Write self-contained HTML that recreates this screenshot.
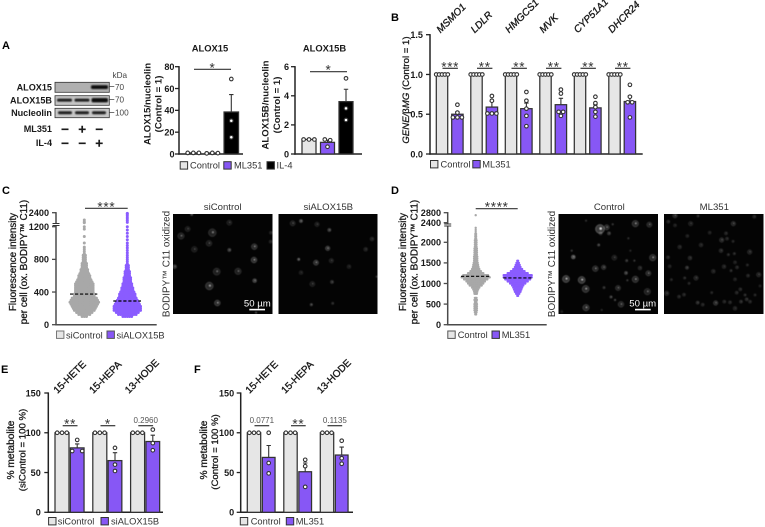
<!DOCTYPE html>
<html lang="en">
<head>
<meta charset="utf-8">
<title>ALOX15 figure</title>
<style>
html,body{margin:0;padding:0;background:#fff;width:765px;height:527px;overflow:hidden}
svg{display:block;font-family:"Liberation Sans",Arial,sans-serif}
text{fill:#1a1a1a}
.b{font-weight:bold}
.t{font-size:9.6px;stroke:#1a1a1a;stroke-width:.3px}
.tb{font-weight:bold;font-size:9.6px}
.leg{font-size:9.3px;fill:#333}
.tick{font-size:9.1px;font-weight:bold}
.rot{font-size:10px;stroke:#1a1a1a;stroke-width:.35px}
.star{font-size:13.5px;fill:#333;letter-spacing:.7px}
.p{font-size:8px;fill:#555}
.letter{font-size:11px;font-weight:bold;fill:#000}
</style>
</head>
<body>
<svg id="fig" xmlns="http://www.w3.org/2000/svg" width="765" height="527" viewBox="0 0 765 527">
<defs>
<filter id="soft" x="-60%" y="-60%" width="220%" height="220%"><feGaussianBlur stdDeviation="0.55"/></filter>
<filter id="band" x="-20%" y="-80%" width="140%" height="260%"><feGaussianBlur stdDeviation="0.9"/></filter>
<clipPath id="c1"><rect x="173" y="214" width="99.5" height="100"/></clipPath>
<clipPath id="c2"><rect x="278.5" y="214" width="99" height="100"/></clipPath>
<clipPath id="c3"><rect x="558.5" y="214" width="99.5" height="100"/></clipPath>
<clipPath id="c4"><rect x="664" y="214" width="99.5" height="100"/></clipPath>
</defs>

<text class="letter" x="2" y="49">A</text>
<text class="letter" x="391" y="21">B</text>
<text class="letter" x="2" y="194">C</text>
<text class="letter" x="391" y="194">D</text>
<text class="letter" x="1" y="373">E</text>
<text class="letter" x="194" y="373">F</text>

<!-- Western blot -->
<g>
<text x="112.5" y="78" font-size="8.2" style="fill:#444">kDa</text>
<text class="b" x="52" y="90.5" font-size="9.1" text-anchor="end">ALOX15</text>
<text class="b" x="52" y="103.5" font-size="9.1" text-anchor="end">ALOX15B</text>
<text class="b" x="52" y="116" font-size="9.1" text-anchor="end">Nucleolin</text>
<rect x="55" y="82.3" width="54.3" height="10" fill="#b0b0b0" stroke="#333" stroke-width=".8"/>
<rect x="55" y="95.7" width="54.3" height="9.6" fill="#c4c4c4" stroke="#333" stroke-width=".8"/>
<rect x="55" y="108.3" width="54.3" height="9.4" fill="#c8c8c8" stroke="#333" stroke-width=".8"/>
<rect x="91" y="85.2" width="17" height="3.8" rx="1.5" fill="#0c0c0c" filter="url(#band)"/>
<rect x="57" y="98.6" width="15" height="3" rx="1.4" fill="#1c1c1c" filter="url(#band)"/>
<rect x="74.5" y="98.6" width="15" height="3" rx="1.4" fill="#1c1c1c" filter="url(#band)"/>
<rect x="91.5" y="98" width="16.5" height="4.4" rx="1.8" fill="#0a0a0a" filter="url(#band)"/>
<rect x="58" y="111.2" width="14" height="3" rx="1.4" fill="#1e1e1e" filter="url(#band)"/>
<rect x="75" y="111.2" width="14" height="3" rx="1.4" fill="#1e1e1e" filter="url(#band)"/>
<rect x="92" y="111.2" width="14" height="3" rx="1.4" fill="#1e1e1e" filter="url(#band)"/>
<path d="M109.3 86.5h5M109.3 99.5h5M109.3 112.5h5" stroke="#444" stroke-width=".8"/>
<text x="115" y="90" font-size="8.2" style="fill:#444">70</text>
<text x="115" y="102.5" font-size="8.2" style="fill:#444">70</text>
<text x="115" y="115.5" font-size="8.2" style="fill:#444">100</text>
<text class="b" x="52" y="132" font-size="9.1" text-anchor="end">ML351</text>
<text class="b" x="52" y="146" font-size="9.1" text-anchor="end">IL-4</text>
<path stroke="#1a1a1a" stroke-width="1.7" fill="none" d="M61.5 129.3h7M95.7 129.3h7M78.7 129.3h7M82.2 125.8v7M61.5 143.3h7M78.7 143.3h7M95.7 143.3h7M99.2 139.8v7"/>
</g>

<!-- Panel A titles and axis text -->
<text class="b" x="210" y="51.5" font-size="9.4" text-anchor="middle">ALOX15</text>
<text class="b" x="324.5" y="51.5" font-size="9.4" text-anchor="middle">ALOX15B</text>
<text class="tb" transform="translate(150.5,104) rotate(-90)" text-anchor="middle">ALOX15/nucleolin</text>
<text class="tb" transform="translate(161.5,104) rotate(-90)" text-anchor="middle">(Control = 1)</text>
<text class="tb" transform="translate(268.5,105) rotate(-90)" text-anchor="middle">ALOX15B/nucleolin</text>
<text class="tb" transform="translate(280,105) rotate(-90)" text-anchor="middle">(Control = 1)</text>

<!-- Panel B text -->
<text class="t" transform="translate(409,90) rotate(-90)" text-anchor="middle"><tspan font-style="italic">GENE/</tspan>β<tspan font-style="italic">MG</tspan> (Control = 1)</text>

<!-- Panel C text -->
<text class="t" transform="translate(16,262) rotate(-90)" text-anchor="middle" style="font-size:9.9px">Fluorescence intensity</text>
<text class="t" transform="translate(27,262) rotate(-90)" text-anchor="middle" style="font-size:9.9px">per cell (ox. BODIPY™ C11)</text>
<text x="222.7" y="210" font-size="9.6" text-anchor="middle" style="fill:#333">siControl</text>
<text x="328.3" y="210" font-size="9.6" text-anchor="middle" style="fill:#333">siALOX15B</text>
<text transform="translate(169.5,264) rotate(-90)" text-anchor="middle" font-size="9.9" style="fill:#333">BODIPY™ C11 oxidized</text>

<!-- Panel D text -->
<text class="t" transform="translate(406,262) rotate(-90)" text-anchor="middle" style="font-size:9.9px">Fluorescence intensity</text>
<text class="t" transform="translate(417.5,262) rotate(-90)" text-anchor="middle" style="font-size:9.9px">per cell (ox. BODIPY™ C11)</text>
<text x="609.3" y="210" font-size="9.6" text-anchor="middle" style="fill:#333">Control</text>
<text x="714.3" y="210" font-size="9.6" text-anchor="middle" style="fill:#333">ML351</text>
<text transform="translate(555,264) rotate(-90)" text-anchor="middle" font-size="9.9" style="fill:#333">BODIPY™ C11 oxidized</text>

<!-- Panel E/F axis text -->
<text class="t" transform="translate(14,450) rotate(-90)" text-anchor="middle" style="font-size:10.2px">% metabolite</text>
<text class="t" transform="translate(25.5,450) rotate(-90)" text-anchor="middle">(siControl = 100 %)</text>
<text class="t" transform="translate(207,450) rotate(-90)" text-anchor="middle" style="font-size:10.2px">% metabolite</text>
<text class="t" transform="translate(218,452) rotate(-90)" text-anchor="middle">(Control = 100 %)</text>

<g id="micrographs"></g>
<g id="charts"></g>

<!-- Scale bars -->
<text x="257.3" y="306.5" font-size="9.6" text-anchor="middle" style="fill:#fff">50 µm</text>
<rect x="249.3" y="308.8" width="15.7" height="1.6" fill="#fff"/>
<text x="642.7" y="306.5" font-size="9.6" text-anchor="middle" style="fill:#fff">50 µm</text>
<rect x="635" y="308.8" width="15.7" height="1.6" fill="#fff"/>

<!-- Legends -->
<g>
<rect x="180.2" y="161.7" width="7.4" height="7.4" fill="#e6e6e6" stroke="#333"/>
<text class="leg" x="190" y="168.6">Control</text>
<rect x="223.8" y="161.7" width="7.4" height="7.4" fill="#8757f5" stroke="#333"/>
<text class="leg" x="234" y="168.6">ML351</text>
<rect x="267" y="161.7" width="7.4" height="7.4" fill="#000" stroke="#333"/>
<text class="leg" x="276.5" y="168.6">IL-4</text>
</g>
<g>
<rect x="430.5" y="160.5" width="7.4" height="7.4" fill="#e6e6e6" stroke="#333"/>
<text class="leg" x="440.5" y="167.3">Control</text>
<rect x="472.8" y="160.5" width="7.4" height="7.4" fill="#8757f5" stroke="#333"/>
<text class="leg" x="482.3" y="167.3">ML351</text>
</g>
<g>
<rect x="56.5" y="331" width="7.4" height="7.4" fill="#e6e6e6" stroke="#777"/>
<text class="leg" x="66" y="338.5">siControl</text>
<rect x="107" y="331" width="7.4" height="7.4" fill="#8757f5" stroke="#555"/>
<text class="leg" x="116.5" y="338.5">siALOX15B</text>
</g>
<g>
<rect x="447.8" y="331" width="7.4" height="7.4" fill="#e6e6e6" stroke="#555"/>
<text class="leg" x="457.7" y="338">Control</text>
<rect x="492" y="331" width="7.4" height="7.4" fill="#8757f5" stroke="#333"/>
<text class="leg" x="501.7" y="338">ML351</text>
</g>
<g>
<rect x="48.6" y="517.5" width="7.4" height="7.4" fill="#e6e6e6" stroke="#333"/>
<text class="leg" x="57.7" y="524.4">siControl</text>
<rect x="101" y="517.5" width="7.4" height="7.4" fill="#8757f5" stroke="#333"/>
<text class="leg" x="111" y="524.4">siALOX15B</text>
</g>
<g>
<rect x="240.3" y="517.5" width="7.4" height="7.4" fill="#e6e6e6" stroke="#333"/>
<text class="leg" x="250.7" y="524.4">Control</text>
<rect x="286.3" y="517.5" width="7.4" height="7.4" fill="#8757f5" stroke="#333"/>
<text class="leg" x="295.7" y="524.4">ML351</text>
</g>
</svg>

<script>
/* ---------- Chart data ---------- */
const CONTROL_FILL = '#e6e6e6', TREAT_FILL = '#8757f5', BLACK_FILL = '#000000';

// Panel A
const aGroups = ['Control', 'ML351', 'IL-4'];
const aTicksLeft = [0, 20, 40, 60, 80];
const aLeftMeans = [1, 0.9, 38.5];
const aLeftSems = [0, 0, 16];
const aLeftPoints = [[1, 1, 1], [0.6, 1, 0.8], [68.7, 30.5, 15.3]];
const aTicksRight = [0, 2, 4, 6];
const aRightMeans = [1, 0.8, 3.6];
const aRightSems = [0, 0.15, 0.85];
const aRightPoints = [[1, 1, 1], [1, 0.95, 0.5], [5.2, 3.14, 2.34]];

// Panel B
const bGenes = ['MSMO1', 'LDLR', 'HMGCS1', 'MVK', 'CYP51A1', 'DHCR24'];
const bTicks = ['0.0', '0.5', '1.0', '1.5'];
const bControlMeans = [1, 1, 1, 1, 1, 1];
const bControlPoints = [1, 1, 1, 1, 1];
const bTreatMeans = [0.5, 0.59, 0.57, 0.62, 0.58, 0.66];
const bTreatSems = [0.03, 0.07, 0.07, 0.08, 0.04, 0.07];
const bTreatPoints = [
  [0.62, 0.52, 0.46, 0.46, 0.46],
  [0.73, 0.67, 0.51, 0.51, 0.51],
  [0.78, 0.67, 0.57, 0.48, 0.35],
  [0.81, 0.76, 0.53, 0.53, 0.48],
  [0.72, 0.64, 0.59, 0.53, 0.47],
  [0.87, 0.72, 0.65, 0.65, 0.46]
];
const bStars = ['***', '**', '**', '**', '**', '**'];

// Panel C: swarm rows (fluorescence level and number of cells shown in that row)
const cTicks = [0, 400, 800, 1200, 2400];
const cControlLevels = [100,125,150,175,200,225,250,275,300,325,350,375,400,425,450,475,500,525,550,575,600,625,650,675,700,725,750,775,800,825,850,875,900,925,950,1000,1080,1170,1200,1250,1350,1570];
const cControlCounts = [3,6,8,10,11,12,13,14,13,12,10,10,9,9,9,9,9,8,7,6,6,5,4,4,3,3,3,2,2,2,2,1,1,1,1,1,1,1,1,1,1,1];
const cTreatLevels = [100,125,150,175,200,225,250,275,300,325,350,375,400,425,450,475,500,525,550,575,600,625,650,675,700,725,750,775,800,825,850,880,910,940,970,1000,1040,1080,1120,1160,1200,1300,1500,1700,1900,2100,2250,2330];
const cTreatCounts = [5,9,11,13,13,13,12,11,10,9,8,8,7,6,6,5,5,4,4,4,3,3,3,2,2,2,1,1,1,1,1,1,1,1,1,1,1,1,1,1,1,1,1,1,1,1,1,1];
const cMedians = [375, 290];

// Panel D: swarm rows
const dTicks = [0, 500, 1000, 1500, 2000, 2400, 2800];
const dControlLevels = [250,300,350,400,450,500,550,600,650,750,800,850,900,950,1000,1050,1100,1150,1200,1250,1300,1350,1400,1450,1500,1550,1600,1650,1700,1750,1800,1850,1900,1950,2000,2050,2100,2150,2200,2250,2300,2350,2700];
const dControlCounts = [2,3,4,4,4,4,3,4,3,4,5,7,10,16,20,24,30,36,32,20,14,10,8,7,6,5,5,5,4,4,4,4,3,3,3,3,2,2,2,1,1,1,1];
const dTreatLevels = [700,750,800,850,900,950,1000,1050,1100,1150,1200,1250,1300,1350,1400,1450,1500,1550];
const dTreatCounts = [2,5,8,10,12,15,20,26,32,36,36,26,18,12,8,6,4,2];
const dMedians = [1175, 1135];

// Panel E
const eAnalytes = ['15-HETE', '15-HEPA', '13-HODE'];
const metaboliteTicks = [0, 50, 100, 150];
const eControlMeans = [100, 100, 100];
const eControlPoints = [100, 100, 100];
const eTreatMeans = [81, 65, 89];
const eTreatSems = [5, 10, 8];
const eTreatPoints = [[91, 77, 77], [81, 60, 52], [104, 87, 78]];
const eLabels = ['**', '*', '0.2960'];

// Panel F
const fAnalytes = ['15-HETE', '15-HEPA', '13-HODE'];
const fControlMeans = [100, 100, 100];
const fControlPoints = [100, 100, 100];
const fTreatMeans = [69, 51, 72];
const fTreatSems = [15, 11, 10];
const fTreatPoints = [[100, 62, 49], [66, 58, 32], [90, 68, 61]];
const fLabels = ['0.0771', '**', '0.1135'];

/* ---------- Drawing helpers ---------- */
const NS = 'http://www.w3.org/2000/svg';
const root = document.getElementById('charts');
const imgRoot = document.getElementById('micrographs');

function make(parent, tag, props, txt) {
  const el = document.createElementNS(NS, tag);
  for (const k in props) el.setAttribute(k, props[k]);
  if (txt !== undefined) el.textContent = txt;
  parent.appendChild(el);
  return el;
}
function linear(d0, d1, r0, r1) {
  return v => r0 + (v - d0) * (r1 - r0) / (d1 - d0);
}
function brokenScale(lowFn, split, highFn) {
  return v => (v <= split ? lowFn(v) : highFn(v));
}
function group(name) {
  const g = make(root, 'g', {});
  
  
  return g;
}

function drawYAxis(g, x, yFn, ticks, x1, color, labelOffset, top) {
  const ax = make(g, 'line', {x1: x, x2: x, y1: top - 0.6, y2: yFn(0) + 0.7, stroke: color, 'stroke-width': 1.5});
  
  
  const bx = make(g, 'line', {x1: x - 0.7, x2: x1, y1: yFn(0), y2: yFn(0), stroke: color, 'stroke-width': 1.5});
  
  
  ticks.forEach(t => {
    const v = parseFloat(t);
    const tk = make(g, 'line', {x1: x - 4, x2: x, y1: yFn(v), y2: yFn(v), stroke: color, 'stroke-width': 1.3});
    
    
    const lb = make(g, 'text', {x: x - labelOffset, y: yFn(v) + 3.3, 'text-anchor': 'end', class: 'tick'}, String(t));
    
    
  });
}

function drawBar(g, cx, w, mean, sem, pts, yFn, fill, spread, minGap, name) {
  const y0 = yFn(0), ym = yFn(mean);
  const bar = make(g, 'rect', {x: cx - w / 2, y: ym, width: w, height: Math.max(0.5, y0 - ym), fill: fill, stroke: '#333', 'stroke-width': 1.25});
  
  
  if (sem > 0) {
    const err = make(g, 'path', {d: 'M' + cx + ' ' + ym + 'V' + yFn(mean + sem) + 'M' + (cx - 2.2) + ' ' + yFn(mean + sem) + 'H' + (cx + 2.2), stroke: '#333', 'stroke-width': 1.1, fill: 'none'});
    
    
  }
  const rows = [];
  pts.forEach(v => {
    let row = rows.find(r => Math.abs(yFn(r[0]) - yFn(v)) < minGap);
    if (!row) { row = []; rows.push(row); }
    row.push(v);
  });
  rows.forEach(row => {
    row.forEach((v, i) => {
      const off = (i - (row.length - 1) / 2) * spread;
      const c = make(g, 'circle', {cx: cx + off, cy: yFn(v), r: 1.8, fill: '#fff', stroke: '#333', 'stroke-width': 1.1});
      
      
    });
  });
}

function drawSig(g, x1, x2, y, label, isP) {
  const l = make(g, 'line', {x1: x1, x2: x2, y1: y, y2: y, stroke: '#333', 'stroke-width': 1.2});
  
  
  const t = make(g, 'text', {x: (x1 + x2) / 2, y: isP ? y - 2.5 : y + 3, 'text-anchor': 'middle', class: isP ? 'p' : 'star'}, label);
  
  
}

function drawRotLabel(g, x, y, label, italic) {
  const t = make(g, 'text', {transform: 'translate(' + x + ',' + y + ') rotate(-45)', class: 'rot'}, label);
  if (italic) t.setAttribute('font-style', 'italic');
  
  
}

function drawSwarm(g, levels, counts, cx, yFn, spacing, r, color, name) {
  levels.forEach((lv, i) => {
    const n = counts[i];
    for (let k = 0; k < n; k++) {
      const c = make(g, 'circle', {cx: cx + (k - (n - 1) / 2) * spacing, cy: yFn(lv), r: r, fill: color});
      
      
    }
  });
}

function drawMedian(g, x1, x2, y) {
  const m = make(g, 'line', {x1: x1, x2: x2, y1: y, y2: y, stroke: '#000', 'stroke-width': 1.2, 'stroke-dasharray': '3.2 1.8'});
  
  
}

function drawBreak(g, x, y1, y2) {
  const mask = make(g, 'rect', {x: x - 1.5, y: y1, width: 3, height: y2 - y1, fill: '#fff'});
  
  
  const mk = make(g, 'path', {d: 'M' + (x - 3.5) + ' ' + y1 + 'H' + (x + 3.5) + 'M' + (x - 3.5) + ' ' + y2 + 'H' + (x + 3.5), stroke: '#333', 'stroke-width': 1});
  
  
}

/* ---------- Panel A ---------- */
(function () {
  const g = group('alox15-bar-chart');
  const y = linear(0, 80, 154, 66.7);
  drawYAxis(g, 179, y, aTicksLeft, 243, '#222', 4.5, 66.7);
  const fills = [CONTROL_FILL, TREAT_FILL, BLACK_FILL];
  aGroups.forEach((name, i) => {
    const cx = 193.3 + i * 19;
    drawBar(g, cx, 14.5, aLeftMeans[i], aLeftSems[i], aLeftPoints[i], y, fills[i], 5.6, 3, 'bar-alox15-' + name.toLowerCase());
  });
  drawSig(g, 194, 231, 69.3, '*');

  const g2 = group('alox15b-bar-chart');
  const y2 = linear(0, 6, 154, 66.7);
  drawYAxis(g2, 295, y2, aTicksRight, 362, '#222', 6, 66.7);
  aGroups.forEach((name, i) => {
    const cx = 309 + i * 18.5;
    drawBar(g2, cx, 14, aRightMeans[i], aRightSems[i], aRightPoints[i], y2, fills[i], 5.4, 3, 'bar-alox15b-' + name.toLowerCase());
  });
  drawSig(g2, 310, 347, 71.7, '*');
})();

/* ---------- Panel B ---------- */
(function () {
  const g = group('gene-expression-bar-chart');
  const y = linear(0, 1.5, 154, 34.7);
  drawYAxis(g, 430, y, bTicks, 642.7, '#222', 7, 34.7);
  bGenes.forEach((gene, i) => {
    const c0 = 442 + i * 34.5, c1 = c0 + 15.4;
    drawBar(g, c0, 11.4, bControlMeans[i], 0, bControlPoints, y, CONTROL_FILL, 2.9, 3, 'bar-control-' + gene.toLowerCase());
    drawBar(g, c1, 11.4, bTreatMeans[i], bTreatSems[i], bTreatPoints[i], y, TREAT_FILL, 4.5, 2.5, 'bar-ml351-' + gene.toLowerCase());
    drawSig(g, c0 + 0.5, c1 + 0.5, 68.3, bStars[i]);
    drawRotLabel(g, 440.5 + i * 34.3, 33.5, gene, true);
  });
})();

/* ---------- Panel C ---------- */
(function () {
  const g = group('bodipy-swarm-chart-c');
  const y = brokenScale(linear(0, 1200, 324.7, 226.7), 1225, linear(1250, 2400, 222.8, 212.7));
  drawSwarm(g, cControlLevels, cControlCounts, 84.3, y, 2.2, 1.5, '#a8a8a8', 'swarm-sicontrol');
  drawSwarm(g, cTreatLevels, cTreatCounts, 127.3, y, 2.2, 1.5, '#8a5cff', 'swarm-sialox15b');
  drawYAxis(g, 56, y, cTicks, 156.7, '#4a4a4a', 7, 212.7);
  drawBreak(g, 56, 223.5, 225.5);
  drawMedian(g, 70, 97.3, y(cMedians[0]));
  drawMedian(g, 113.3, 141, y(cMedians[1]));
  drawSig(g, 85, 127.7, 208.3, '***');
})();

/* ---------- Panel D ---------- */
(function () {
  const g = group('bodipy-swarm-chart-d');
  const y = brokenScale(linear(0, 2000, 324.7, 242.3), 2380, linear(2400, 2800, 222.7, 212.7));
  drawSwarm(g, dControlLevels, dControlCounts, 475.7, y, 0.8, 1.2, '#a8a8a8', 'swarm-control');
  drawSwarm(g, dTreatLevels, dTreatCounts, 517.7, y, 0.8, 1.2, '#8a5cff', 'swarm-ml351');
  drawYAxis(g, 447.7, y, dTicks, 546.7, '#4a4a4a', 6.7, 212.7);
  drawBreak(g, 447.7, 224, 226);
  drawMedian(g, 461, 490, y(dMedians[0]));
  drawMedian(g, 503.3, 531.7, y(dMedians[1]));
  drawSig(g, 475.7, 517.7, 208.7, '****');
})();

/* ---------- Panels E & F ---------- */
(function () {
  const g = group('metabolite-bar-chart-e');
  const y = linear(0, 150, 512.3, 393);
  drawYAxis(g, 48.3, y, metaboliteTicks, 163, '#222', 7.5, 393);
  eAnalytes.forEach((name, i) => {
    const c0 = 62 + i * 37.8, c1 = c0 + 15.2;
    drawBar(g, c0, 14, eControlMeans[i], 0, eControlPoints, y, CONTROL_FILL, 4.8, 3, 'bar-sicontrol-' + name.toLowerCase());
    drawBar(g, c1, 13.7, eTreatMeans[i], eTreatSems[i], eTreatPoints[i], y, TREAT_FILL, 10, 3, 'bar-sialox15b-' + name.toLowerCase());
    const isP = eLabels[i].indexOf('0') === 0;
    drawSig(g, c0 + 0.7, c1 + 0.3, 425.7, eLabels[i], isP);
    drawRotLabel(g, 57.5 + i * 35.7, 394, name, false);
  });

  const g2 = group('metabolite-bar-chart-f');
  const y2 = linear(0, 150, 512.3, 393);
  drawYAxis(g2, 240.7, y2, metaboliteTicks, 353, '#222', 6.5, 393);
  fAnalytes.forEach((name, i) => {
    const c0 = 254 + i * 36.5, c1 = c0 + 14.7;
    drawBar(g2, c0, 13.4, fControlMeans[i], 0, fControlPoints, y2, CONTROL_FILL, 4.6, 3, 'bar-control-' + name.toLowerCase());
    drawBar(g2, c1, 12.7, fTreatMeans[i], fTreatSems[i], fTreatPoints[i], y2, TREAT_FILL, 6, 3, 'bar-ml351-' + name.toLowerCase());
    const isP = fLabels[i].indexOf('0') === 0;
    drawSig(g2, c0 + 0.5, c1 + 0.5, 425.7, fLabels[i], isP);
    drawRotLabel(g2, 249.5 + i * 35.7, 394, name, false);
  });
})();

/* ---------- Micrographs (decorative image content) ---------- */
const imgC1 = [[33,78,10,.4],[53,57,8,.3],[127,68,12,.45],[178,38,8,.3],[73,118,9,.3],[117,100,9,.35],[178,120,5,.6],[253,110,9,.55],[252,150,9,.65],[303,68,5,.3],[302,95,5,.3],[14,170,6,.55],[140,185,11,.4],[204,184,10,.4],[118,228,12,.6],[254,212,6,.7],[142,279,9,.65],[65,13,4,.6],[258,308,3,.4]];
const imgC2 = [[368,40,8,.35],[393,33,5,.7],[441,43,7,.3],[478,60,5,.6],[606,87,6,.3],[587,118,6,.3],[473,115,7,.65],[386,148,4,.7],[438,158,8,.6],[484,152,7,.3],[537,170,6,.25],[393,188,6,.25],[427,222,8,.3],[486,216,5,.45],[424,284,4,.5],[488,280,4,.3],[620,200,3,.3]];
const imgD1 = [[135,57,14,.9],[155,52,8,.5],[162,70,5,.5],[137,70,5,.4],[241,41,10,.55],[283,44,8,.45],[173,43,3,.3],[93,32,3,.25],[131,105,4,.5],[220,85,3,.25],[55,141,6,.9],[178,143,8,.3],[293,143,10,.55],[215,152,4,.4],[238,152,3,.3],[226,122,3,.2],[121,176,9,.5],[146,172,7,.5],[255,174,6,.35],[213,189,5,.6],[280,190,8,.5],[33,207,11,.75],[80,210,11,.75],[241,208,10,.55],[92,237,11,.6],[189,234,8,.45],[147,233,4,.35],[217,211,3,.3],[277,245,10,.4],[168,261,4,.5],[180,270,3,.4],[198,283,9,.45],[93,293,10,.55],[50,122,3,.3],[20,305,4,.2],[140,300,3,.2]];
const imgD2 = [[360,17,7,.45],[340,35,5,.3],[360,46,5,.25],[407,41,7,.3],[429,18,4,.3],[535,41,7,.4],[598,20,5,.3],[464,68,5,.25],[513,70,5,.3],[500,90,7,.4],[516,86,5,.3],[534,94,4,.25],[397,78,5,.25],[374,111,6,.3],[438,105,6,.3],[498,122,6,.35],[584,126,7,.35],[520,134,4,.3],[538,131,4,.3],[339,142,5,.3],[405,144,6,.35],[540,157,5,.25],[577,165,4,.25],[344,169,5,.25],[396,173,5,.45],[475,184,6,.3],[507,170,6,.3],[528,182,4,.3],[546,172,5,.3],[579,197,5,.3],[611,194,7,.35],[349,209,4,.25],[389,204,4,.3],[423,204,7,.35],[402,220,4,.25],[540,208,5,.25],[335,250,7,.35],[372,260,5,.3],[387,254,5,.3],[470,248,4,.25],[545,248,5,.3],[556,238,5,.3],[570,255,4,.3],[600,255,4,.25],[428,278,5,.4],[443,284,5,.3],[482,279,7,.5],[508,275,5,.3],[525,277,5,.3],[540,295,6,.3],[558,275,5,.35],[575,268,5,.35],[585,275,5,.3],[615,228,4,.2]];

function drawMicrograph(name, clip, ox, oy, px, py, w, h, cells) {
  const g = make(imgRoot, 'g', {'clip-path': 'url(#' + clip + ')'});
  
  
  const bg = make(g, 'rect', {x: px, y: py, width: w, height: h, fill: '#040404'});
  
  
  cells.forEach(c => {
    const cx = ox + c[0] / 3, cy = oy + c[1] / 3, r = c[2] / 3, b = c[3];
    const s = make(g, 'circle', {cx: cx, cy: cy, r: r * 0.95, fill: '#fff', 'fill-opacity': b * 0.25, stroke: '#fff', 'stroke-opacity': b * 0.5, 'stroke-width': 0.5, filter: 'url(#soft)'});
    
    
    const sp = make(g, 'circle', {cx: cx + r * 0.15, cy: cy - r * 0.1, r: Math.max(0.5, r * 0.28), fill: '#fff', 'fill-opacity': b * 0.9, filter: 'url(#soft)'});
    
    
  });
}
drawMicrograph('micrograph-sicontrol', 'c1', 170, 210, 173, 214, 99.5, 100, imgC1);
drawMicrograph('micrograph-sialox15b', 'c2', 170, 210, 278.5, 214, 99, 100, imgC2);
drawMicrograph('micrograph-control', 'c3', 555, 210, 558.5, 214, 99.5, 100, imgD1);
drawMicrograph('micrograph-ml351', 'c4', 555, 210, 664, 214, 99.5, 100, imgD2);
</script>
</body>
</html>
